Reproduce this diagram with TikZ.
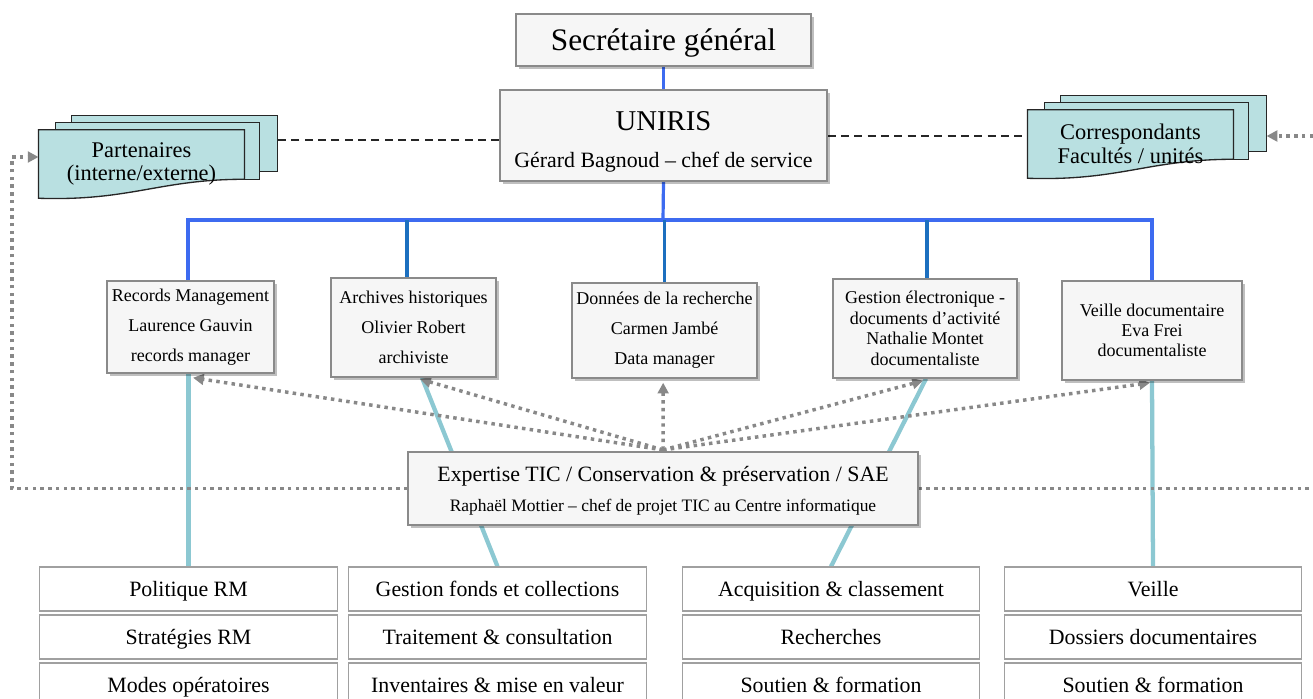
\documentclass[tikz,border=0pt]{standalone}
\usepackage{fontspec}
\setmainfont{Liberation Serif}
\usepackage{xcolor}
\definecolor{linkblue}{HTML}{3D6BF0}
\definecolor{dropblue}{HTML}{1C6FBF}
\definecolor{tiecyan}{HTML}{8CC8D2}
\definecolor{dotgray}{HTML}{888888}
\definecolor{docfill}{HTML}{B9E0E1}
\definecolor{boxfill}{HTML}{F6F6F6}
\definecolor{boxline}{HTML}{8A8A8A}
\definecolor{taskline}{HTML}{A0A0A0}
\usepackage{tikz}
\usetikzlibrary{arrows.meta,positioning,calc,shadows,backgrounds}
\newcommand{\fs}[2]{\fontsize{#1}{#2}\selectfont}

\begin{document}
\begin{tikzpicture}[
  x=0.75pt, y=-0.75pt,
  head/.style={draw=boxline, fill=boxfill, line width=1.1pt,
    drop shadow={shadow xshift=2pt, shadow yshift=-2pt, fill=black, opacity=0.25}},
  unit/.style={head, align=center, inner sep=2pt, font=\fs{13.5}{22.5}},
  task/.style={draw=taskline, fill=white, line width=0.8pt, text height=13pt, text depth=2pt,
    minimum width=223pt, minimum height=33pt, font=\fs{16.4}{18}},
  doctext/.style={minimum width=154pt, minimum height=51pt, inner sep=0pt,
    align=center, font=\fs{16.8}{17.5}},
  doc/.style={draw=black!85, fill=docfill, line width=1pt},
  bus/.style={linkblue, line width=2.4pt},
  drop/.style={dropblue, line width=2.6pt},
  tie/.style={tiecyan, line width=3.2pt},
  dots/.style={dotgray, line width=2.6pt, dash pattern=on 2.6pt off 3.2pt},
  dotarrow/.style={dots, -{Triangle[length=8pt, width=8pt]}},
  dashlink/.style={black!85, line width=1.3pt, dash pattern=on 6pt off 4pt}
]
\useasboundingbox (0,0) rectangle (1313,699);

% direction
\node[head, minimum width=221.25pt, minimum height=39pt, text depth=0pt, font=\fs{23.5}{26}] (sg) at (663.5,40) {Secrétaire général};
\node[head, minimum width=245.25pt, minimum height=68.25pt] (uniris) at (663.5,135.5) {};
\node[font=\fs{21.5}{24}] (unirisname) at (663.5,121) {UNIRIS};
\node[font=\fs{16.4}{18}] (unirischef) at (663.5,162) {Gérard Bagnoud – chef de service};

% partners
\node[doctext] (part) at (141.5,164) {Partenaires\\(interne/externe)};
\node[doctext] (corr) at (1130.5,144) {Correspondants\\Facultés / unités};

% units
\node[unit, minimum width=125.25pt, minimum height=69pt] (rm) at (190.5,327) {Records Management\\Laurence Gauvin\\records manager};
\node[unit, minimum width=123.75pt, minimum height=74.25pt] (ah) at (413.5,327.5) {Archives historiques\\Olivier Robert\\archiviste};
\node[unit, minimum width=138.75pt, minimum height=71.25pt] (dr) at (664.5,330.5) {Données de la recherche\\Carmen Jambé\\Data manager};
\node[unit, minimum width=138pt, minimum height=74.25pt, font=\fs{13.5}{15.4}] (ge) at (925,328.5) {Gestion électronique -\\documents d’activité\\Nathalie Montet\\documentaliste};
\node[unit, minimum width=135pt, minimum height=74.25pt, font=\fs{13.5}{15}] (vd) at (1152,330.5) {Veille documentaire\\Eva Frei\\documentaliste};

% expertise
\node[head, minimum width=382.5pt, minimum height=54.75pt] (ex) at (663,488.5) {};
\node[font=\fs{16.4}{18}] (exname) at (663,476) {Expertise TIC / Conservation \& préservation / SAE};
\node[font=\fs{13.1}{15}] (exchef) at (663,507) {Raphaël Mottier – chef de projet TIC au Centre informatique};

% tasks
\node[task] (rm1) at (188.5,589) {Politique RM};
\node[task, below=2.2pt of rm1] (rm2) {Stratégies RM};
\node[task, below=2.2pt of rm2] (rm3) {Modes opératoires};
\node[task] (ah1) at (497.5,589) {Gestion fonds et collections};
\node[task, below=2.2pt of ah1] (ah2) {Traitement \& consultation};
\node[task, below=2.2pt of ah2] (ah3) {Inventaires \& mise en valeur};
\node[task] (ge1) at (831,589) {Acquisition \& classement};
\node[task, below=2.2pt of ge1] (ge2) {Recherches};
\node[task, below=2.2pt of ge2] (ge3) {Soutien \& formation};
\node[task] (vd1) at (1153,589) {Veille};
\node[task, below=2.2pt of vd1] (vd2) {Dossiers documentaires};
\node[task, below=2.2pt of vd2] (vd3) {Soutien \& formation};

\begin{pgfonlayer}{background}
\fill[white] (0,0) rectangle (1313,699);
% stacked documents
\foreach \d in {part,corr} {
  \draw[doc] ([shift={(33,-14)}]\d.north west) rectangle ++(206,56) coordinate (\d-back);
  \draw[doc] ([shift={(17,-7)}]\d.north west) rectangle ++(204,57);
  \draw[doc] (\d.north west) -- (\d.north east) -- ([yshift=14.25pt]\d.south east)
    .. controls ([shift={(-85,-19)}]\d.south east) and ([shift={(92,3)}]\d.south west) .. (\d.south west) -- cycle;
}
% hierarchy
\coordinate (bus) at (663,220);
\draw[bus] (sg.south) -- (uniris.north);
\draw[bus] (uniris.south) -- (bus);
\draw[bus] ([xshift=-1.9pt]rm.north) -- ([xshift=-1.9pt]rm.north |- bus) -- (vd.north |- bus) -- (vd.north);
\foreach \u/\dx in {ah/-5, dr/0, ge/1.5} {
  \path ([xshift=\dx pt]\u.north) coordinate (top);
  \draw[drop] (top) -- (top |- bus);
}
\draw[dashlink] ([yshift=-3.5pt]uniris.west) -- ([yshift=-3.5pt]uniris.west -| part-back);
\draw[dashlink] ([yshift=-0.4pt]uniris.east) -- ([yshift=-0.4pt]uniris.east -| corr.west);
% tasks
\draw[tie] (rm1.north |- rm.south) -- (rm1.north);
\draw[tie] ([xshift=6.4pt]ah.south) -- (ah1.north);
\draw[tie] ([xshift=0.75pt]ge.south) -- (ge1.north);
\draw[tie] (vd.south) -- (vd1.north);
% expertise links
\foreach \u/\dx/\dy in {rm/1.9/-3, ah/5/-1, dr/-1/-3, ge/-1.5/-1.5, vd/-1.5/-1.5}
  \draw[dotarrow] ([yshift=1pt]ex.north) -- ([xshift=\dx pt, yshift=\dy pt]\u.south);
\coordinate (lowL) at (12,488.5);
\coordinate (upL) at (12,157);
\coordinate (lowR) at (1313,488.5);
\coordinate (upR) at (1313,136);
\draw[dotarrow] (ex.west) -- (lowL) -- (upL) -- (upL -| part.west);
\draw[dots] (ex.east) -- (lowR);
\draw[dotarrow] (upR) -- (upR -| corr-back);
\end{pgfonlayer}
\end{tikzpicture}
\end{document}
